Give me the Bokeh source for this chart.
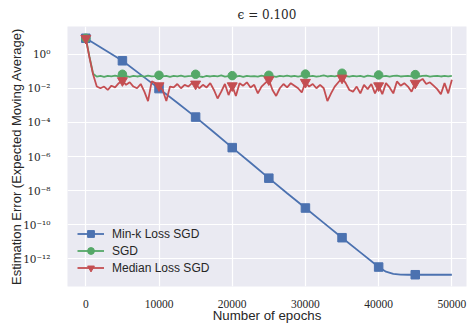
from bokeh.plotting import figure
from bokeh.models import (FixedTicker, CustomJSTickFormatter, Legend, LegendItem,
                          Range1d)
from bokeh.embed import file_html
from bokeh.resources import INLINE

# ---- data (errors stored as log10 exponents) ----
grid_epochs = list(range(0, 50001, 500))

sgd_log10 = [
    0.93, -0.15, -1.15, -1.32, -1.28, -1.33, -1.27, -1.31, -1.26, -1.30,
    -1.18, -1.29, -1.33, -1.27, -1.31, -1.28, -1.32, -1.26, -1.30, -1.29,
    -1.24, -1.31, -1.27, -1.33, -1.28, -1.30, -1.26, -1.32, -1.29, -1.27,
    -1.18, -1.30, -1.34, -1.28, -1.31, -1.27, -1.30, -1.25, -1.32, -1.29,
    -1.26, -1.31, -1.28, -1.33, -1.27, -1.30, -1.29, -1.32, -1.26, -1.30,
    -1.24, -1.29, -1.33, -1.27, -1.30, -1.26, -1.31, -1.28, -1.32, -1.27,
    -1.17, -1.30, -1.27, -1.32, -1.29, -1.25, -1.31, -1.28, -1.30, -1.26,
    -1.12, -1.29, -1.32, -1.27, -1.30, -1.28, -1.33, -1.26, -1.29, -1.31,
    -1.22, -1.30, -1.27, -1.32, -1.28, -1.26, -1.31, -1.29, -1.27, -1.30,
    -1.20, -1.31, -1.28, -1.26, -1.32, -1.29, -1.27, -1.31, -1.28, -1.30,
    -1.27,
]

median_log10 = [
    0.93, -0.20, -1.20, -1.90, -2.00, -1.90, -2.10, -1.85, -1.95, -1.70,
    -1.55, -1.80, -1.65, -1.90, -2.00, -1.75, -2.20, -2.75, -1.60, -1.70,
    -1.85, -2.10, -2.75, -1.90, -1.95, -1.75, -2.00, -1.80, -1.90, -1.70,
    -1.75, -2.00, -1.80, -1.95, -1.70, -2.10, -2.60, -2.20, -1.75, -2.40,
    -1.85, -2.45, -1.70, -1.85, -1.65, -1.95, -1.80, -2.30, -1.90, -1.70,
    -1.50, -2.10, -2.45, -2.00, -1.75, -1.95, -1.70, -1.85, -2.00, -2.25,
    -1.65, -1.90, -1.75, -2.00, -1.80, -2.00, -2.75, -2.30, -1.90, -1.65,
    -1.40, -1.70, -2.10, -2.20, -1.90, -2.30, -1.80, -2.05, -1.75, -2.30,
    -1.85, -2.35, -1.70, -1.95, -2.30, -1.60, -1.85, -1.70, -1.90, -2.20,
    -1.70, -1.60, -1.45, -1.75, -1.65, -1.85, -2.05, -2.35, -1.70, -2.30,
    -1.50,
]

mink_epochs = [0, 2500, 5000, 7500, 10000, 12500, 15000, 17500, 20000, 22500,
               25000, 27500, 30000, 32500, 35000, 37500, 40000, 41000, 42000,
               43000, 44000, 45000, 47500, 50000]
mink_log10 = [0.93, 0.27, -0.39, -1.20, -2.02, -2.85, -3.69, -4.58, -5.48, -6.37,
              -7.27, -8.15, -9.02, -9.89, -10.76, -11.62, -12.48, -12.75, -12.88,
              -12.92, -12.93, -12.93, -12.93, -12.93]

marker_epochs = list(range(0, 45001, 5000))

x_ticks = [0, 10000, 20000, 30000, 40000, 50000]
y_tick_exponents = [0, -2, -4, -6, -8, -10, -12]

series_names = ["Min-k Loss SGD", "SGD", "Median Loss SGD"]
colors = ["#4C72B0", "#55A868", "#C44E52"]


def to_values(exps):
    return [10.0 ** e for e in exps]


def marker_subset(epochs, values):
    keep = set(marker_epochs)
    pts = [(x, y) for x, y in zip(epochs, values) if x in keep]
    return [p[0] for p in pts], [p[1] for p in pts]


series = [
    (mink_epochs, to_values(mink_log10), "square", 8.5),
    (grid_epochs, to_values(sgd_log10), "circle", 8.5),
    (grid_epochs, to_values(median_log10), "inverted_triangle", 10),
]

# ---- figure ----
p = figure(width=467, height=328, output_backend="svg", toolbar_location=None,
           y_axis_type="log",
           x_range=Range1d(-2500, 52000),
           y_range=Range1d(10 ** -13.62, 10 ** 1.62),
           min_border_left=67, min_border_right=1,
           min_border_top=25, min_border_bottom=42)

p.background_fill_color = "#EAEAF2"
p.border_fill_color = "white"
p.outline_line_color = None

p.title.text = "\u03f5 = 0.100"
p.title.align = "center"
p.title.text_font = "DejaVu Serif"
p.title.text_font_size = "12px"
p.title.text_font_style = "normal"
p.title.text_color = "#262626"

for g in (p.xgrid, p.ygrid):
    g.grid_line_color = "white"
    g.grid_line_width = 1.2
p.ygrid.minor_grid_line_color = None

p.xaxis.ticker = FixedTicker(ticks=x_ticks)
p.yaxis.ticker = FixedTicker(ticks=[10.0 ** e for e in y_tick_exponents], minor_ticks=[])
p.yaxis.formatter = CustomJSTickFormatter(code="""
    const sup = {"-": "\u207b", "0": "\u2070", "1": "\u00b9", "2": "\u00b2",
                 "3": "\u00b3", "4": "\u2074", "5": "\u2075", "6": "\u2076",
                 "7": "\u2077", "8": "\u2078", "9": "\u2079"};
    const e = Math.round(Math.log10(tick));
    return "10" + String(e).split("").map(c => sup[c]).join("");
""")

for ax in (p.xaxis, p.yaxis):
    ax.axis_line_color = None
    ax.major_tick_line_color = None
    ax.minor_tick_line_color = None
    ax.major_label_text_color = "#262626"
    ax.axis_label_text_font = "Liberation Sans"
    ax.axis_label_text_font_style = "normal"
    ax.axis_label_text_color = "#262626"

p.xaxis.axis_label_text_font_size = "13.3px"
p.yaxis.axis_label_text_font_size = "13px"
p.xaxis.major_label_text_font = "Liberation Serif"
p.xaxis.major_label_text_font_size = "11.5px"
p.yaxis.major_label_text_font = "DejaVu Serif"
p.yaxis.major_label_text_font_size = "10.5px"

p.xaxis.axis_label = "Number of epochs"
p.yaxis.axis_label = "Estimation Error (Expected Moving Average)"
p.xaxis.major_label_standoff = 7
p.yaxis.major_label_standoff = 11
p.xaxis.axis_label_standoff = -3
p.yaxis.axis_label_standoff = -4

items = []
for name, color, (xs, ys, marker, msize) in zip(series_names, colors, series):
    line_r = p.line(xs, ys, line_color=color, line_width=1.8)
    mx, my = marker_subset(xs, ys)
    mark_r = p.scatter(mx, my, marker=marker, size=msize,
                       fill_color=color, line_color=color)
    items.append(LegendItem(label=name, renderers=[line_r, mark_r]))

legend = Legend(items=items, location="bottom_left")
legend.background_fill_alpha = 0
legend.border_line_alpha = 0
legend.margin = 0
legend.padding = 10
legend.spacing = 0
legend.glyph_width = 27
legend.glyph_height = 17
legend.label_height = 17
legend.label_standoff = 8
legend.label_text_font = "Liberation Sans"
legend.label_text_font_size = "12px"
legend.label_text_color = "#262626"
p.add_layout(legend)

open("out.html", "w").write(file_html(p, INLINE))
